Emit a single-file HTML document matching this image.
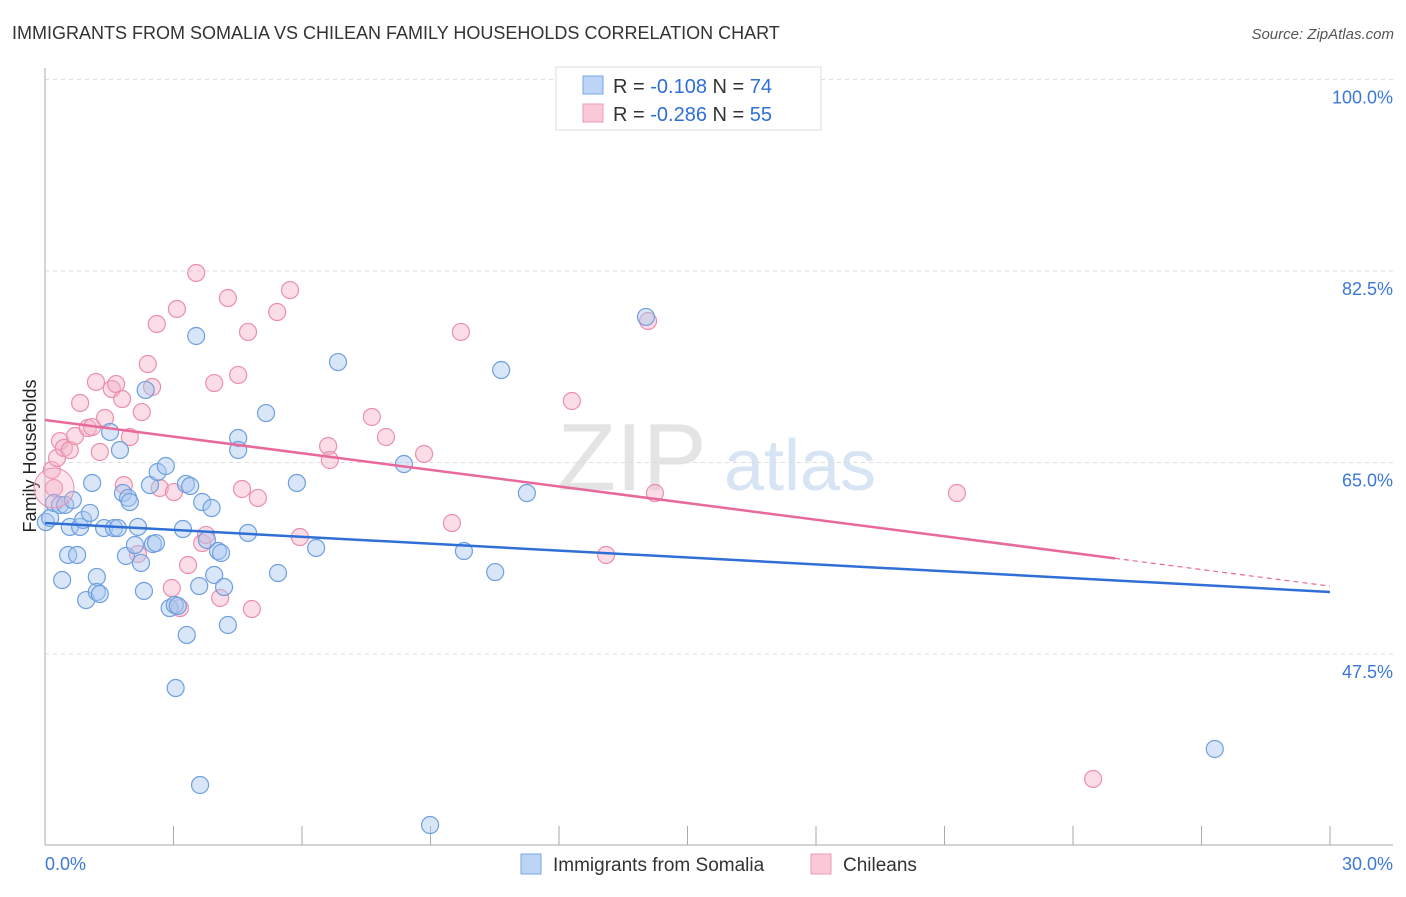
<!DOCTYPE html>
<html><head><meta charset="utf-8"><style>
body{margin:0;background:#fff;font-family:"Liberation Sans",sans-serif}
svg text{font-family:"Liberation Sans",sans-serif}
</style></head><body>
<svg id="c" width="1406" height="892" xmlns="http://www.w3.org/2000/svg">
<text x="12" y="39" font-size="18" fill="#333">IMMIGRANTS FROM SOMALIA VS CHILEAN FAMILY HOUSEHOLDS CORRELATION CHART</text>
<text x="1394" y="39" font-size="15" fill="#555" text-anchor="end" font-style="italic">Source: ZipAtlas.com</text>
<text x="36" y="456" font-size="18" fill="#222" text-anchor="middle" transform="rotate(-90 36 456)">Family Households</text>
<g><text x="632" y="490" font-size="96" fill="#e4e4e4" font-family="Liberation Serif" text-anchor="middle">ZIP</text><text x="800" y="490" font-size="72" fill="#d6e4f4" text-anchor="middle">atlas</text></g>
<g id="grid"></g><g id="pts"></g><g id="lines"></g>
<g>
<rect x="556" y="67" width="265" height="63" fill="#fff" stroke="#ddd"/>
<rect x="583" y="76" width="20" height="18" fill="#bcd4f5" stroke="#7aa6e3"/>
<rect x="583" y="104" width="20" height="18" fill="#f9c9d8" stroke="#ef9ab5"/>
<text x="613" y="93" font-size="20" fill="#333">R = <tspan fill="#2f6fd6">-0.108</tspan>   N = <tspan fill="#2f6fd6">74</tspan></text>
<text x="613" y="121" font-size="20" fill="#333">R = <tspan fill="#2f6fd6">-0.286</tspan>   N = <tspan fill="#2f6fd6">55</tspan></text>
</g>
<g>
<rect x="521" y="854" width="20" height="20" fill="#bcd4f5" stroke="#7aa6e3"/>
<text x="553" y="871" font-size="19" fill="#333">Immigrants from Somalia</text>
<rect x="811" y="854" width="20" height="20" fill="#f9c9d8" stroke="#ef9ab5"/>
<text x="843" y="871" font-size="19" fill="#333">Chileans</text>
</g>
</svg>
<script>
const xTicks=[0,3,6,9,12,15,18,21,24,27,30];
const yTicks=[47.5,65,82.5,100];
const blueX=[0.02,0.12,0.21,0.35,0.47,0.40,0.54,0.58,0.65,0.75,0.82,0.89,0.96,1.05,1.10,1.21,1.21,1.28,1.38,1.52,1.61,1.70,1.75,1.82,1.89,1.94,1.98,2.10,2.17,2.24,2.31,2.35,2.45,2.52,2.59,2.63,2.82,2.91,3.03,3.05,3.10,3.22,3.31,3.29,3.39,3.53,3.60,3.62,3.67,3.78,3.89,3.95,4.04,4.11,4.18,4.27,4.51,4.51,4.74,5.16,5.44,5.88,6.33,6.84,8.38,8.99,9.78,10.51,10.65,11.25,14.03,27.31];
const blueY=[59.56,59.93,61.30,61.12,61.12,54.26,56.55,59.11,61.57,56.55,59.11,59.75,52.43,60.39,63.13,54.54,53.17,52.98,59.01,67.79,59.01,59.01,66.14,62.21,56.46,61.76,61.39,57.46,59.11,55.82,53.26,71.63,62.94,57.55,57.64,64.13,64.68,51.70,51.98,44.39,51.89,58.92,49.24,63.04,62.85,76.56,53.71,35.53,61.39,57.92,60.84,54.72,56.91,56.73,53.62,50.15,67.24,66.14,58.56,69.52,54.90,63.13,57.19,74.18,64.86,31.87,56.91,54.99,73.45,62.21,78.30,38.82];
const pinkX=[0.16,0.21,0.28,0.35,0.44,0.58,0.70,0.82,1.00,1.10,1.19,1.28,1.40,1.56,1.66,1.80,1.84,1.98,2.17,2.26,2.40,2.50,2.61,2.68,2.96,3.01,3.08,3.15,3.34,3.53,3.67,3.76,3.95,4.09,4.27,4.51,4.60,4.74,4.83,4.97,5.42,5.72,5.95,6.61,6.65,7.63,7.96,8.85,9.50,9.71,12.30,13.10,14.08,14.24,21.29,24.47];
const pinkY=[64.31,62.67,65.41,66.96,66.33,66.14,67.42,70.44,68.15,68.24,72.36,65.96,69.07,71.72,72.17,70.80,62.94,67.33,56.64,69.61,74.00,71.90,77.66,62.67,53.53,62.30,79.03,51.70,55.63,82.32,57.64,58.38,72.26,52.62,80.03,73.00,62.58,76.93,51.61,61.76,78.75,80.76,58.19,66.51,65.23,69.16,67.33,65.78,59.47,76.93,70.62,56.55,77.93,62.21,62.21,36.08];
const blueTrend=[59.47,53.17];
const pinkTrend=[68.88,53.7];
const pinkSolidEnd=24.98;
const X=v=>45+v/30*1285, Y=v=>79.5+(100-v)/17.5*191.5;
const NS='http://www.w3.org/2000/svg';
function mk(p,t,a){const e=document.createElementNS(NS,t);for(const k in a)e.setAttribute(k,a[k]);p.appendChild(e);return e;}
const g=document.getElementById('grid');
yTicks.forEach(v=>{const l=mk(g,'line',{x1:45,x2:1393,y1:Y(v),y2:Y(v),stroke:'#ddd','stroke-dasharray':'4,4'});


const t=mk(g,'text',{x:1393,y:Y(v)+24,'font-size':18,fill:'#3b78d8','text-anchor':'end'});t.textContent=v.toFixed(1)+'%';

});
const ax=mk(g,'line',{x1:45,x2:45,y1:68,y2:845,stroke:'#aaa'});


const bx=mk(g,'line',{x1:45,x2:1393,y1:845,y2:845,stroke:'#aaa'});


xTicks.forEach(v=>{const l=mk(g,'line',{x1:X(v),x2:X(v),y1:826,y2:845,stroke:'#aaa'});

});
[[0,'start'],[30,'end']].forEach(([v,a])=>{const t=mk(g,'text',{x:v?1393:45,y:870,'font-size':18,fill:'#3b78d8','text-anchor':a});t.textContent=v.toFixed(1)+'%';

});
const p=document.getElementById('pts');
function pts(xs,ys,fill,stroke,name){xs.forEach((x,i)=>{const c=mk(p,'circle',{cx:X(x),cy:Y(ys[i]),r:8.5,fill:fill,'fill-opacity':0.45,stroke:stroke,'stroke-width':1.2});

});}
pts(pinkX,pinkY,'#f5b3c8','#ec8fac','chileans-point');
pts(blueX,blueY,'#a9c8f0','#6f9fe0','somalia-point');
const big=mk(p,'circle',{cx:X(pinkX[1]),cy:Y(pinkY[1]),r:20,fill:'#f5b3c8','fill-opacity':0.35,stroke:'#ec8fac'});


const L=document.getElementById('lines');
const bl=mk(L,'line',{x1:X(0),y1:Y(blueTrend[0]),x2:X(30),y2:Y(blueTrend[1]),stroke:'#2f6fd6','stroke-width':2.5});


const pm=pinkTrend[0]+(pinkTrend[1]-pinkTrend[0])*pinkSolidEnd/30;
const pl=mk(L,'line',{x1:X(0),y1:Y(pinkTrend[0]),x2:X(pinkSolidEnd),y2:Y(pm),stroke:'#e8699a','stroke-width':2.5});


const pd=mk(L,'line',{x1:X(pinkSolidEnd),y1:Y(pm),x2:X(30),y2:Y(pinkTrend[1]),stroke:'#e8699a','stroke-width':1.2,'stroke-dasharray':'5,4'});


</script>
</body></html>
